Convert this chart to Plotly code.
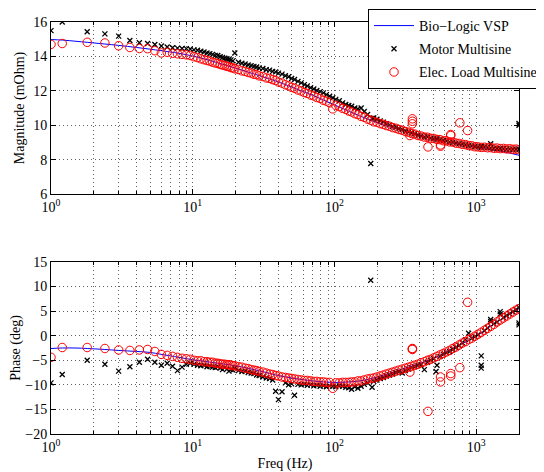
import math
import plotly.graph_objects as go
from plotly.subplots import make_subplots

# ---------------- data ----------------
freq = [
    1.0, 1.2, 1.8, 2.4, 3.0, 3.6, 4.2, 4.8, 5.4, 6.0,
    6.6, 7.2, 7.8, 8.4, 9.0, 9.6, 10.2, 10.8, 11.4, 12.0,
    12.6, 13.2, 13.8, 14.4, 15.0, 15.6, 16.2, 16.8, 17.4, 18.0,
    18.6, 19.2, 19.8, 21.0, 22.2, 23.4, 24.6, 25.8, 27.0, 28.2,
    29.4, 31.2, 33.0, 34.8, 36.6, 38.4, 40.2, 42.6, 45.0, 47.4,
    49.8, 52.2, 55.2, 58.2, 61.2, 64.2, 67.8, 71.4, 75.0, 79.2,
    83.4, 87.6, 92.4, 97.2, 102, 108, 114, 120, 126, 132,
    139, 146, 154, 162, 171, 180, 189, 199, 210, 221,
    232, 244, 257, 271, 285, 300, 316, 333, 350, 368,
    388, 408, 430, 452, 476, 501, 528, 555, 585, 615,
    648, 682, 718, 756, 796, 838, 882, 928, 977, 1029,
    1083, 1140, 1200, 1263, 1330, 1400, 1474, 1552, 1634, 1720,
    1810, 1906, 2000,
]

elec_mag = [
    14.70, 14.75, 14.82, 14.78, 14.62, 14.52, 14.46, 14.45, 14.33, 14.20,
    14.24, 14.18, 14.15, 14.12, 14.09, 14.05, 13.98, 13.93, 13.86, 13.81,
    13.76, 13.72, 13.66, 13.62, 13.59, 13.53, 13.50, 13.47, 13.42, 13.40,
    13.35, 13.33, 13.28, 13.24, 13.16, 13.13, 13.06, 13.03, 12.96, 12.94,
    12.87, 12.83, 12.75, 12.72, 12.65, 12.60, 12.51, 12.45, 12.35, 12.29,
    12.20, 12.15, 12.05, 11.99, 11.90, 11.85, 11.75, 11.70, 11.61, 11.55,
    11.45, 11.40, 11.30, 10.95, 11.15, 11.08, 10.98, 10.92, 10.82, 10.77,
    10.67, 10.62, 10.51, 10.46, 10.35, 10.29, 10.20, 10.17, 10.09, 10.05,
    9.98, 9.94, 9.86, 9.82, 9.75, 9.71, 9.63, 9.59, 9.52, 9.48,
    9.40, 9.37, 9.31, 9.30, 9.24, 9.23, 9.17, 9.16, 9.10, 9.09,
    9.03, 9.02, 8.96, 8.94, 8.89, 8.87, 8.82, 8.80, 8.75, 8.74,
    8.71, 8.72, 8.69, 8.70, 8.66, 8.67, 8.64, 8.65, 8.62, 8.63,
    8.60, 8.61, 8.58,
]

elec_phase = [
    -4.4, -2.4, -2.4, -2.6, -2.9, -3.0, -2.9, -2.8, -3.2, -3.8,
    -4.0, -4.2, -4.4, -4.6, -4.7, -4.8, -5.0, -5.1, -5.1, -5.3,
    -5.3, -5.4, -5.4, -5.6, -5.6, -5.7, -5.8, -5.8, -5.9, -5.9,
    -6.0, -6.1, -6.1, -6.3, -6.4, -6.6, -6.7, -6.9, -7.0, -7.1,
    -7.3, -7.4, -7.6, -7.8, -7.9, -8.1, -8.2, -8.4, -8.5, -8.6,
    -8.7, -8.8, -8.9, -9.0, -9.1, -9.1, -9.2, -9.3, -9.3, -9.4,
    -9.4, -9.5, -9.5, -10.7, -9.6, -9.6, -9.5, -9.5, -9.5, -9.4,
    -9.4, -9.2, -9.2, -9.0, -8.8, -8.7, -8.6, -8.4, -8.2, -8.0,
    -7.8, -7.6, -7.4, -7.2, -7.0, -6.8, -6.6, -6.4, -6.2, -6.0,
    -5.8, -5.5, -5.3, -5.0, -4.8, -4.5, -4.2, -3.9, -3.6, -3.3,
    -3.0, -2.6, -2.3, -1.9, -1.5, -1.2, -0.8, -0.5, -0.1, 0.3,
    0.7, 1.1, 1.5, 1.9, 2.3, 2.8, 3.2, 3.6, 4.0, 4.4,
    4.8, 5.2, 5.5,
]

elec_extra_freq = [354, 354, 354, 456, 559, 559, 660, 660, 765, 868, 340]
elec_extra_mag = [10.37, 10.23, 10.08, 8.74, 8.78, 8.85, 9.46, 9.40, 10.14, 9.69, 9.40]
elec_extra_phase = [-2.6, -2.8, -2.7, -15.4, -8.4, -9.4, -7.7, -8.2, -6.5, 6.8, -7.4]

motor_mag = [
    15.50, 16.00, 15.43, 15.31, 15.18, 14.92, 14.79, 14.75, 14.69, 14.60,
    14.55, 14.50, 14.48, 14.46, 14.45, 14.43, 14.38, 14.36, 14.30, 14.26,
    14.20, 14.16, 14.12, 14.06, 14.05, 13.98, 13.94, 13.90, 13.86, 13.83,
    13.80, 13.74, 14.20, 13.66, 13.60, 13.56, 13.50, 13.46, 13.42, 13.38,
    13.33, 13.30, 13.22, 13.20, 13.13, 13.10, 13.03, 12.97, 12.88, 12.82,
    12.72, 12.66, 12.55, 12.46, 12.36, 12.28, 12.18, 12.10, 12.02, 11.95,
    11.88, 11.78, 11.68, 11.60, 11.50, 11.42, 11.30, 11.20, 11.15, 11.10,
    11.00, 10.94, 11.00, 10.80, 10.62, 7.77, 10.42, 10.35, 10.25, 10.18,
    10.08, 10.02, 9.93, 9.88, 9.80, 9.75, 9.66, 9.62, 9.55, 9.50,
    9.42, 9.38, 9.32, 9.31, 9.25, 9.22, 9.18, 9.15, 9.11, 9.08,
    9.03, 9.00, 8.96, 8.93, 8.90, 8.86, 8.82, 8.80, 8.76, 8.74,
    8.72, 8.74, 8.70, 8.68, 8.66, 8.65, 8.64, 8.63, 8.62, 8.61,
    8.60, 8.60, 10.10,
]

motor_phase = [
    -9.6, -7.9, -5.0, -5.8, -7.2, -6.3, -5.4, -4.8, -5.4, -6.0,
    -5.6, -6.2, -7.1, -6.4, -5.8, -5.6, -5.8, -6.0, -6.1, -6.0,
    -6.3, -6.2, -6.4, -6.5, -6.3, -6.6, -6.9, -6.5, -6.8, -7.2,
    -6.9, -7.0, -6.6, -7.1, -7.3, -7.2, -7.5, -7.6, -7.7, -8.0,
    -8.1, -8.4, -8.6, -8.7, -9.0, -11.3, -13.0, -11.4, -9.6, -10.0,
    -9.8, -12.1, -9.9, -10.0, -9.9, -10.1, -10.0, -10.2, -10.1, -10.3,
    -10.2, -10.4, -10.2, -10.3, -10.4, -10.2, -10.3, -10.5, -10.6, -10.9,
    -10.4, -10.7, -10.3, -9.9, -9.6, 11.3, -9.3, -9.0, -8.7, -8.5,
    -8.2, -8.0, -7.8, -7.5, -7.3, -7.6, -7.1, -6.8, -6.5, -6.3,
    -6.0, -5.9, -6.9, -5.4, -5.0, -4.7, -6.0, -4.2, -3.8, -3.5,
    -3.2, -2.8, -2.4, -2.0, -1.4, -0.8, 0.5, -0.5, -0.2, 0.2,
    -6.0, 1.0, 1.6, 2.9, 2.4, 2.8, 4.9, 3.7, 4.1, 4.5,
    4.9, 5.3, 2.2,
]

motor_extra_freq = [2000, 2000, 1083, 1083, 520, 184, 1263, 1474]
motor_extra_mag = [10.0, 8.6, 8.78, 8.74, 9.24, 10.4, 8.92, 8.66]
motor_extra_phase = [2.6, 5.8, -4.1, -6.6, -7.3, -10.5, 3.3, 4.4]

vsp_freq = [1, 1.2, 1.5, 1.8, 2.4, 3, 4, 5, 6, 8, 10, 12, 15, 20, 30, 40, 50, 70,
            100, 150, 200, 300, 500, 700, 1000, 1300, 1600, 2000]
vsp_mag = [14.98, 14.95, 14.88, 14.82, 14.72, 14.64, 14.52, 14.42, 14.33, 14.18,
           14.02, 13.86, 13.63, 13.32, 12.86, 12.52, 12.21, 11.74, 11.18, 10.55,
           10.15, 9.68, 9.20, 8.96, 8.72, 8.58, 8.44, 8.25]
vsp_phase = [-2.6, -2.5, -2.5, -2.6, -2.8, -3.0, -3.2, -3.4, -3.8, -4.4,
             -4.9, -5.2, -5.6, -6.1, -7.2, -8.1, -8.6, -9.2, -9.5, -9.2,
             -8.4, -6.8, -4.6, -2.4, -0.1, 2.2, 3.8, 5.5]

x_tick_vals = [1, 10, 100, 1000]
x_tick_text = ["10<sup>0</sup>", "10<sup>1</sup>", "10<sup>2</sup>", "10<sup>3</sup>"]
mag_ticks = [6, 8, 10, 12, 14, 16]
phase_ticks = [-20, -15, -10, -5, 0, 5, 10, 15]

# ---------------- figure ----------------
FONT = "Liberation Serif"
GRID = "#606060"
DOTS = "1px,3px"
fig = make_subplots(rows=2, cols=1)

m_f = freq + motor_extra_freq
e_f = freq + elec_extra_freq

for row, (vy, my, ey) in enumerate([
        (vsp_mag, motor_mag + motor_extra_mag, elec_mag + elec_extra_mag),
        (vsp_phase, motor_phase + motor_extra_phase, elec_phase + elec_extra_phase)], start=1):
    show = row == 1
    fig.add_trace(go.Scatter(x=vsp_freq, y=vy, mode="lines", name="Bio\u2212Logic VSP",
                             line=dict(color="#0000ff", width=1, shape="spline"),
                             legendgroup="a", showlegend=show, legendrank=1), row=row, col=1)
    fig.add_trace(go.Scatter(x=m_f, y=my, mode="markers", name="Motor Multisine",
                             marker=dict(symbol="x-thin", size=5, color="black",
                                         line=dict(color="black", width=1.3)),
                             legendgroup="b", showlegend=show, legendrank=2), row=row, col=1)
    fig.add_trace(go.Scatter(x=e_f, y=ey, mode="markers", name="Elec. Load Multisine",
                             marker=dict(symbol="circle-open", size=8.5, color="red",
                                         line=dict(color="red", width=1)),
                             legendgroup="c", showlegend=show, legendrank=3), row=row, col=1)

minor_vals = [m * 10 ** d for d in range(4) for m in range(2, 10) if m * 10 ** d <= 2000]

xcommon = dict(
    type="log", range=[0, math.log10(2000)],
    showline=True, linecolor="black", linewidth=1, mirror="allticks",
    ticks="inside", ticklen=5, tickcolor="black",
    showgrid=True, gridcolor=GRID, griddash=DOTS, gridwidth=1,
    tickmode="array", tickvals=x_tick_vals, ticktext=x_tick_text,
    minor=dict(tickmode="array", tickvals=minor_vals, ticks="inside", ticklen=3,
               tickcolor="black", showgrid=True, gridcolor=GRID, griddash=DOTS, gridwidth=1),
    zeroline=False, tickfont=dict(size=14, family=FONT, color="black"),
)
ycommon = dict(
    showline=True, linecolor="black", linewidth=1, mirror="allticks",
    ticks="inside", ticklen=5, tickcolor="black",
    showgrid=True, gridcolor=GRID, griddash=DOTS, gridwidth=1,
    zeroline=False, tickfont=dict(size=14, family=FONT, color="black"),
    tickmode="array",
)

fig.update_xaxes(**xcommon)
fig.update_xaxes(title=dict(text="Freq (Hz)", font=dict(size=14, family=FONT, color="black"),
                            standoff=5), row=2, col=1)
fig.update_yaxes(**ycommon)
fig.update_yaxes(range=[6, 16], tickvals=mag_ticks, domain=[0.5825, 1.0],
                 title=dict(text="Magnitude (mOhm)", font=dict(size=14, family=FONT, color="black"),
                            standoff=5), row=1, col=1)
fig.update_yaxes(range=[-20, 15], tickvals=phase_ticks, domain=[0.0, 0.4175],
                 title=dict(text="Phase (deg)", font=dict(size=14, family=FONT, color="black"),
                            standoff=3), row=2, col=1)

# The page body adds an 8 px offset, so the figure is 8 px smaller than the window
fig.update_layout(
    width=536, height=464,
    margin=dict(l=43, r=25, t=14, b=38, autoexpand=False),
    paper_bgcolor="white", plot_bgcolor="white",
    font=dict(family=FONT, size=14, color="black"),
    legend=dict(x=1.0513, y=1.0316, xanchor="right", yanchor="top",
                bgcolor="white", bordercolor="black", borderwidth=1,
                font=dict(size=14, family=FONT, color="black"),
                traceorder="grouped", tracegroupgap=2, itemwidth=40),
    showlegend=True,
)

fig.write_html("out.html", config={"displayModeBar": False})
